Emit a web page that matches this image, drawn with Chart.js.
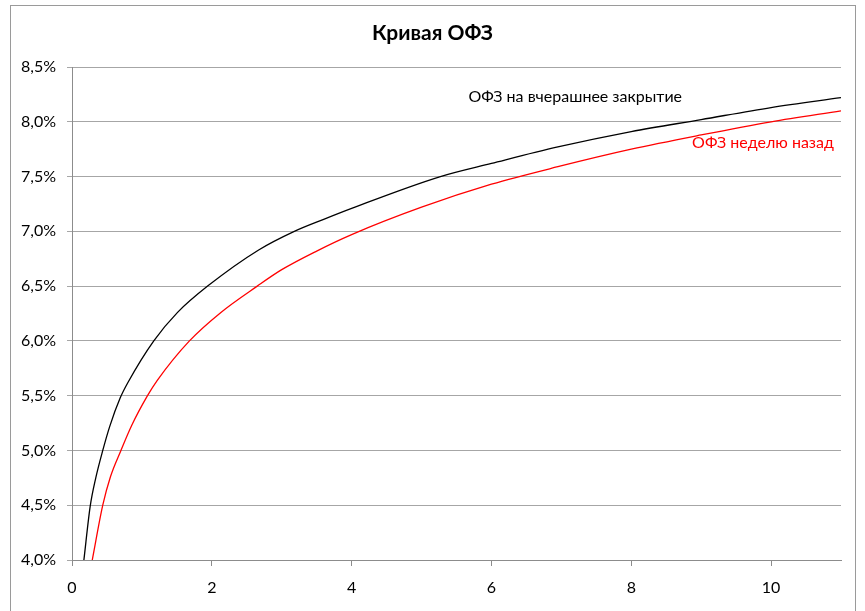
<!DOCTYPE html>
<html>
<head>
<meta charset="utf-8">
<script src="https://cdn.jsdelivr.net/npm/chart.js@4"></script>
<style>
  html, body { margin: 0; padding: 0; background: #fff; }
  #wrap { position: relative; width: 865px; height: 611px; }
</style>
</head>
<body>
<div id="wrap"><canvas id="ofzChart" width="865" height="611"></canvas></div>
<script>
// Yield curve points (maturity in years, yield in %)
const yesterdayX = [0.17, 0.26, 0.34, 0.44, 0.54, 0.69, 0.8, 1.17, 1.51, 1.94, 2.67, 3.18, 3.6, 4.0, 5.27, 6.0, 6.95, 8.0, 9.0, 10.0, 11.0];
const yesterdayY = [4.0, 4.49, 4.75, 5.0, 5.22, 5.48, 5.62, 6.0, 6.26, 6.5, 6.83, 7.0, 7.11, 7.21, 7.5, 7.62, 7.77, 7.91, 8.02, 8.13, 8.22];
const weekAgoX = [0.29, 0.44, 0.55, 0.7, 0.855, 1.08, 1.22, 1.68, 2.13, 2.65, 3.0, 3.5, 4.0, 5.0, 6.0, 6.95, 8.0, 9.0, 10.0, 11.0];
const weekAgoY = [4.0, 4.5, 4.76, 5.0, 5.23, 5.5, 5.64, 6.0, 6.26, 6.5, 6.65, 6.82, 6.97, 7.22, 7.43, 7.59, 7.75, 7.88, 8.0, 8.1];

const xTicks = [0, 2, 4, 6, 8, 10];
const chartTitle = 'Кривая ОФЗ';
const seriesLabels = ['ОФЗ на вчерашнее закрытие', 'ОФЗ неделю назад'];

const FONT = 'Lato, "Open Sans", sans-serif';

function toPoints(xs, ys) {
    return xs.map((x, i) => ({ x: x, y: ys[i] }));
}

// Frame around the whole chart and the title centred on it
const framePlugin = {
    id: 'frame',
    beforeDraw(chart) {
        const ctx = chart.ctx;
        ctx.save();
        ctx.strokeStyle = '#9a9a9a';
        ctx.lineWidth = 1;
        ctx.strokeRect(10.5, 5.5, 845, 620);
        ctx.font = 'bold 21px ' + FONT;
        ctx.fillStyle = '#000000';
        ctx.textAlign = 'center';
        ctx.textBaseline = 'middle';
        ctx.fillText(chartTitle, 10 + 845 / 2, 33);
        ctx.restore();
    }
};

// Series names written inside the plot, next to the curves
const seriesTextPlugin = {
    id: 'seriesText',
    afterDraw(chart) {
        const ctx = chart.ctx;
        const xs = chart.scales.x;
        const ys = chart.scales.y;
        ctx.save();
        ctx.font = '16px ' + FONT;
        ctx.textAlign = 'left';
        ctx.textBaseline = 'middle';
        ctx.fillStyle = '#000000';
        ctx.fillText(seriesLabels[0], xs.getPixelForValue(5.67), ys.getPixelForValue(8.23));
        ctx.fillStyle = '#ff0000';
        ctx.fillText(seriesLabels[1], xs.getPixelForValue(8.87), ys.getPixelForValue(7.81));
        ctx.restore();
    }
};

new Chart(document.getElementById('ofzChart').getContext('2d'), {
    type: 'scatter',
    data: {
        datasets: [
            {
                label: seriesLabels[0],
                data: toPoints(yesterdayX, yesterdayY),
                showLine: true,
                borderColor: '#000000',
                borderWidth: 1.3,
                pointRadius: 0,
                cubicInterpolationMode: 'monotone'
            },
            {
                label: seriesLabels[1],
                data: toPoints(weekAgoX, weekAgoY),
                showLine: true,
                borderColor: '#ff0000',
                borderWidth: 1.3,
                pointRadius: 0,
                cubicInterpolationMode: 'monotone'
            }
        ]
    },
    options: {
        responsive: false,
        animation: false,
        layout: {
            padding: { top: 67, right: 24, bottom: 0, left: 0 }
        },
        plugins: {
            legend: { display: false },
            tooltip: { enabled: false },
            title: { display: false }
        },
        scales: {
            x: {
                type: 'linear',
                min: 0,
                max: 11,
                afterBuildTicks: (scale) => {
                    scale.ticks = xTicks.map(v => ({ value: v }));
                },
                afterFit: (scale) => { scale.height = 51; },
                ticks: {
                    color: '#000000',
                    font: { family: FONT, size: 16 },
                    padding: 12,
                    maxRotation: 0
                },
                grid: {
                    drawOnChartArea: false,
                    drawTicks: true,
                    tickLength: 6,
                    color: '#8c8c8c'
                },
                border: { color: '#8c8c8c' }
            },
            y: {
                min: 4,
                max: 8.5,
                afterFit: (scale) => { scale.width = 72; },
                ticks: {
                    stepSize: 0.5,
                    color: '#000000',
                    font: { family: FONT, size: 16 },
                    padding: 11,
                    callback: (v) => v.toFixed(1).replace('.', ',') + '%'
                },
                grid: {
                    color: '#a6a6a6',
                    tickLength: 5
                },
                border: { color: '#8c8c8c' }
            }
        }
    },
    plugins: [framePlugin, seriesTextPlugin]
});
</script>
</body>
</html>
